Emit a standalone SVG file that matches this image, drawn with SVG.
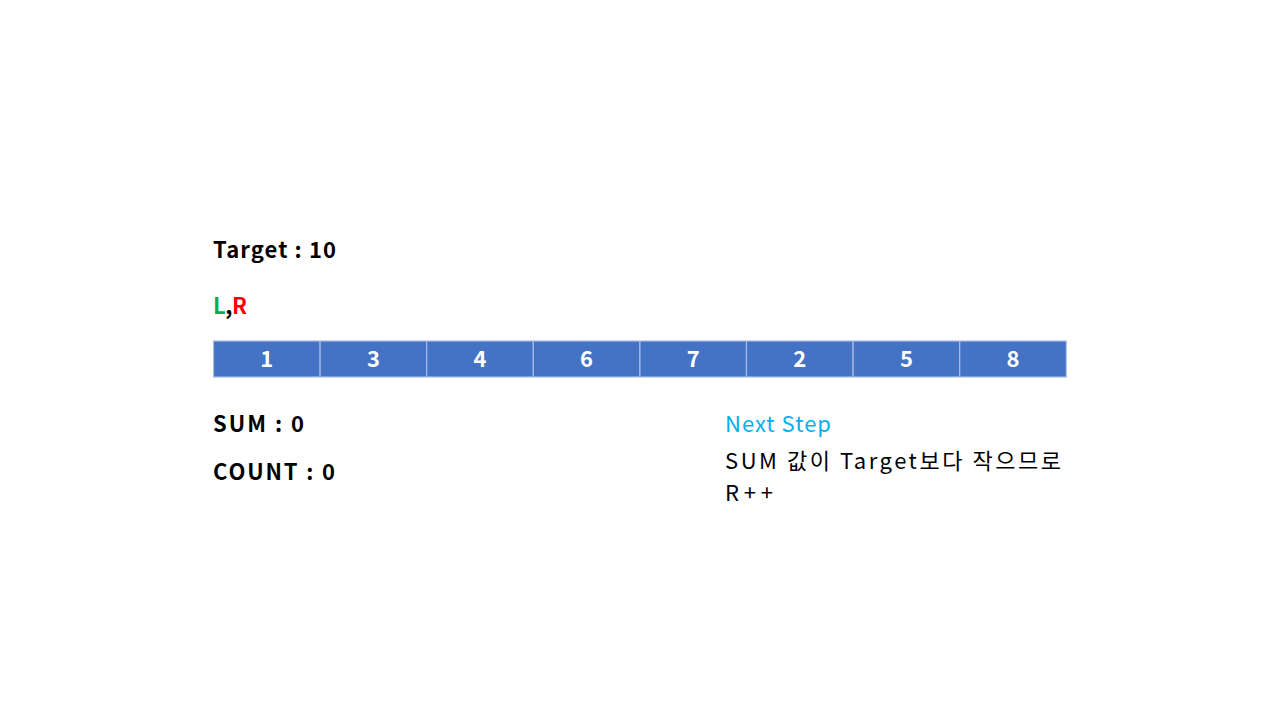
<svg xmlns="http://www.w3.org/2000/svg" width="1280" height="720" viewBox="0 0 1280 720">
<style>
text{font-family:"Noto Sans CJK KR","Noto Sans",sans-serif;font-size:22px}
.b{font-weight:bold}
.cell rect{fill:#4472C4;stroke:#A9BDE6;stroke-width:1.2}
.cell text{fill:#fff;font-weight:bold;text-anchor:middle}
</style>
<rect width="1280" height="720" fill="#fff"/>
<g id="target"><text class="b" x="213" y="258" fill="#000" textLength="123" lengthAdjust="spacing">Target : 10</text></g>
<g id="lr"><text class="b" x="213" y="314" textLength="34" lengthAdjust="spacing"><tspan fill="#00B050">L</tspan><tspan fill="#000">,</tspan><tspan fill="#FF0000">R</tspan></text></g>
<g id="array">
<g id="c0" class="cell"><rect x="213.5" y="341" width="106.6" height="36"/><text x="266.8" y="367">1</text></g>
<g id="c1" class="cell"><rect x="320.1" y="341" width="106.6" height="36"/><text x="373.4" y="367">3</text></g>
<g id="c2" class="cell"><rect x="426.7" y="341" width="106.6" height="36"/><text x="480" y="367">4</text></g>
<g id="c3" class="cell"><rect x="533.3" y="341" width="106.6" height="36"/><text x="586.6" y="367">6</text></g>
<g id="c4" class="cell"><rect x="639.9" y="341" width="106.6" height="36"/><text x="693.2" y="367">7</text></g>
<g id="c5" class="cell"><rect x="746.5" y="341" width="106.6" height="36"/><text x="799.8" y="367">2</text></g>
<g id="c6" class="cell"><rect x="853.1" y="341" width="106.6" height="36"/><text x="906.4" y="367">5</text></g>
<g id="c7" class="cell"><rect x="959.7" y="341" width="106.6" height="36"/><text x="1013" y="367">8</text></g>
</g>
<g id="sum"><text class="b" x="213" y="432" fill="#000" textLength="91" lengthAdjust="spacing">SUM : 0</text></g>
<g id="count"><text class="b" x="213" y="480" fill="#000" textLength="122" lengthAdjust="spacing">COUNT : 0</text></g>
<g id="next"><text x="725" y="432" fill="#00B0F0" textLength="106" lengthAdjust="spacing">Next Step</text>
<text x="725" y="469" fill="#000" textLength="336" lengthAdjust="spacing">SUM 값이 Target보다 작으므로</text>
<text x="725" y="501" fill="#000" textLength="48" lengthAdjust="spacing">R++</text></g>
<g id="connectors"/>
</svg>
